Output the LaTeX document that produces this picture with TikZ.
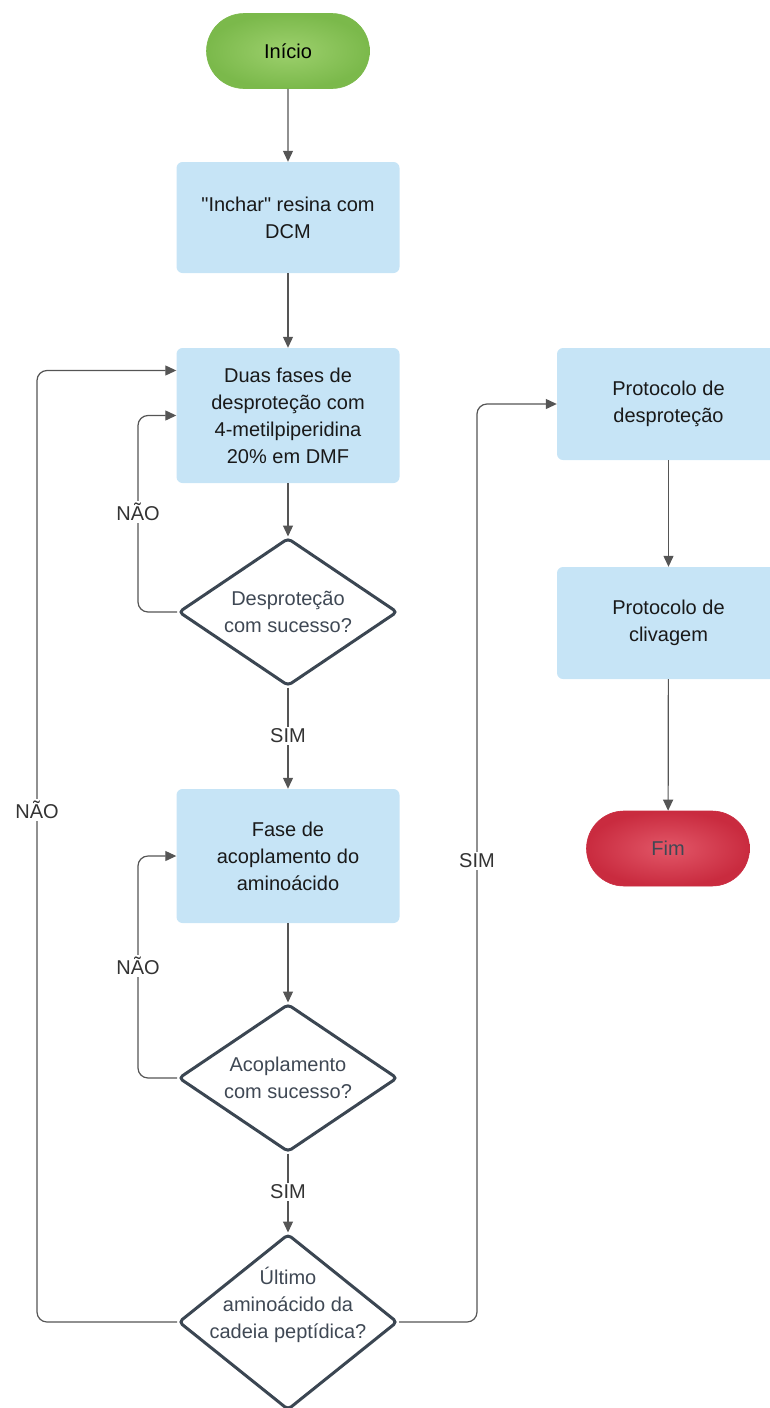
\documentclass[tikz,border=0pt]{standalone}
\usepackage{fontspec}
\setmainfont{Liberation Sans}
\usetikzlibrary{shapes.geometric,shapes.misc,arrows.meta}
\definecolor{boxblue}{HTML}{C6E4F6}
\definecolor{decline}{HTML}{3B4652}
\definecolor{dectext}{HTML}{3F4854}
\definecolor{flowgray}{HTML}{555555}
\definecolor{startin}{HTML}{9DD06D}
\definecolor{startout}{HTML}{7BB94B}
\definecolor{endin}{HTML}{E25768}
\definecolor{endout}{HTML}{C92B3F}

\begin{document}
\begin{tikzpicture}[x=1pt,y=-1pt,
	font=\fontsize{20}{27}\selectfont,
	proc/.style={fill=boxblue,rounded corners=6pt,minimum width=223pt,align=center,text=black!90},
	term/.style={rounded rectangle,shade,shading=radial,line width=0.6pt,minimum width=163pt,minimum height=75pt,inner sep=0pt},
	dec/.style={diamond,draw=decline,line width=3pt,rounded corners=4pt,minimum width=219pt,minimum height=148pt,inner sep=0pt},
	txt/.style={text=dectext,align=center},
	flow/.style={draw=flowgray,line width=1.2pt,rounded corners=10pt,-{Triangle[length=11pt,width=10pt]}},
	tag/.style={fill=white,text=black!80,inner sep=2pt}]
	\useasboundingbox (0,0) rectangle (769,1408);
	% left column
	\node[term,inner color=startin,outer color=startout,draw=startout] (S) at (288,51) {Início};
	\node[proc,minimum height=111pt] (B1) at (288,217.5) {\textquotedbl Inchar\textquotedbl\ resina com\\DCM};
	\node[proc,minimum height=135pt] (B2) at (288,415.5) {Duas fases de\\desproteção com\\4-metilpiperidina\\20\% em DMF};
	\node[dec,label={[txt]center:{Desproteção\\com sucesso?}}] (D1) at (288,612) {};
	\node[proc,minimum height=134pt] (B3) at (288,856) {Fase de\\acoplamento do\\aminoácido};
	\node[dec,label={[txt]center:{Acoplamento\\com sucesso?}}] (D2) at (288,1078) {};
	\node[dec,minimum height=176pt,label={[txt,yshift=17pt]center:{Último\\aminoácido da\\cadeia peptídica?}}] (D3) at (288,1322) {};
	% right column
	\node[proc,minimum height=112pt] (B4) at (668.5,404) {Protocolo de\\desproteção};
	\node[proc,minimum height=112pt] (B5) at (668.5,623) {Protocolo de\\clivagem};
	\node[term,inner color=endin,outer color=endout,draw=endout,text=dectext] (E) at (668,848.5) {Fim};
	% connectors
	\draw[flow] (S) -- (B1);
	\draw[flow] (B1) -- (B2);
	\draw[flow] (B2) -- (D1);
	\draw[flow] (D1) -- (B3);
	\draw[flow] (B3) -- (D2);
	\draw[flow] (D2) -- (D3);
	\draw[flow] (D1.west) -- (138,612) |- (B2.west);
	\draw[flow] (D2.west) -- (138,1078) |- (B3.west);
	\draw[flow] (D3.west) -- (37,1322) |- ([yshift=45pt]B2.west);
	\draw[flow] (D3.east) -- (477,1322) |- (B4.west);
	\draw[flow] (B4) -- (B5);
	\draw[flow] (B5) -- (E);
	% labels
	\node[tag] (n1) at (138,512) {NÃO};
	\node[tag] (s1) at (288,736) {SIM};
	\node[tag] (n2) at (138,966) {NÃO};
	\node[tag] (s2) at (288,1192) {SIM};
	\node[tag] (n3) at (37,810) {NÃO};
	\node[tag] (s3) at (477,861) {SIM};
\end{tikzpicture}
\end{document}
